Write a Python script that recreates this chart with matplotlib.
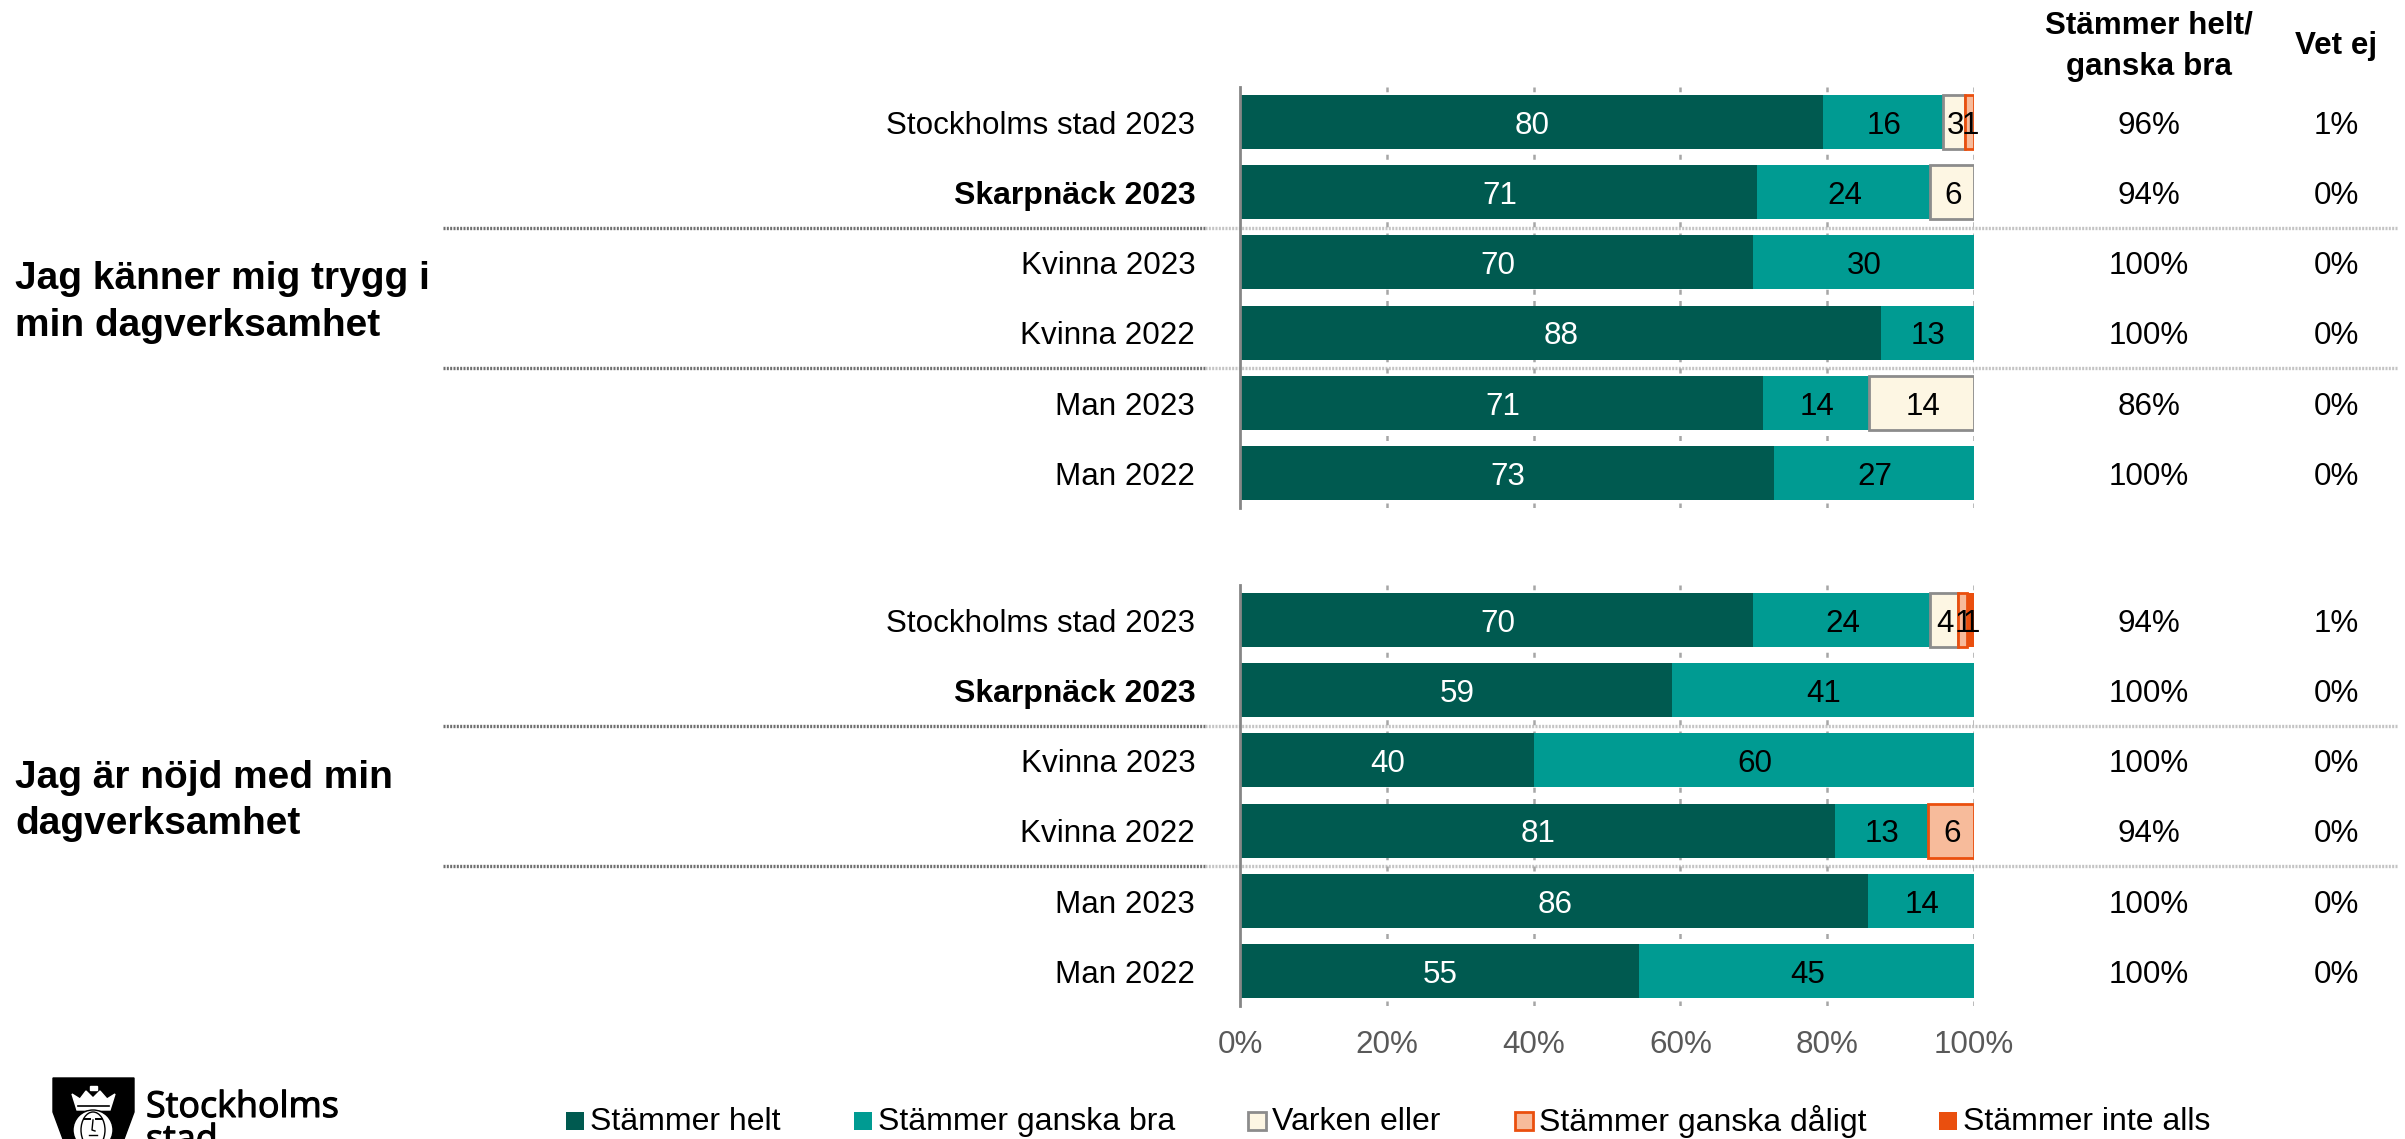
import matplotlib
matplotlib.use('Agg')
import matplotlib.pyplot as plt
import matplotlib.patheffects as pe
from matplotlib.patches import Polygon, Ellipse, Rectangle

plt.rcParams['font.family'] = ['Liberation Sans', 'DejaVu Sans']

W, H = 2405, 1139

rows = ['Stockholms stad 2023', 'Skarpnäck 2023', 'Kvinna 2023', 'Kvinna 2022', 'Man 2023', 'Man 2022']
legend_names = ['Stämmer helt', 'Stämmer ganska bra', 'Varken eller', 'Stämmer ganska dåligt', 'Stämmer inte alls']
face = ['#005a50', '#009b92', '#fdf6e3', '#f7bb9b', '#ea4f0e']
edge = ['#005a50', '#009b92', '#8c8c8c', '#ea4f0e', '#ea4f0e']

# bar lengths, the printed labels are kept apart
helt_1 = [79.4, 70.5, 69.9, 87.3, 71.3, 72.7]
bra_1 = [16.4, 23.5, 30.1, 12.7, 14.4, 27.3]
varken_1 = [3.0, 6.0, 0, 0, 14.3, 0]
daligt_1 = [1.2, 0, 0, 0, 0, 0]
inte_1 = [0, 0, 0, 0, 0, 0]
labels_1 = [['80', '16', '3', '1'], ['71', '24', '6'], ['70', '30'], ['88', '13'], ['71', '14', '14'], ['73', '27']]
helt_pct_1 = ['96%', '94%', '100%', '100%', '86%', '100%']
vet_ej_1 = ['1%', '0%', '0%', '0%', '0%', '0%']

helt_2 = [69.9, 58.8, 40.0, 81.0, 85.6, 54.3]
bra_2 = [24.1, 41.2, 60.0, 12.7, 14.4, 45.7]
varken_2 = [3.8, 0, 0, 0, 0, 0]
daligt_2 = [1.2, 0, 0, 6.3, 0, 0]
inte_2 = [1.0, 0, 0, 0, 0, 0]
labels_2 = [['70', '24', '4', '1', '1'], ['59', '41'], ['40', '60'], ['81', '13', '6'], ['86', '14'], ['55', '45']]
helt_pct_2 = ['94%', '100%', '100%', '94%', '100%', '100%']
vet_ej_2 = ['1%', '0%', '0%', '0%', '0%', '0%']

ticks = [0, 20, 40, 60, 80, 100]

FS = 22.6
TXT_DY = 0.055  # text sits a little lower than the bar middle


def px_axes(fig, left, top, right, bottom):
    return fig.add_axes([left / W, 1 - bottom / H, (right - left) / W, (bottom - top) / H])


def draw_panel(fig, top, bottom, series, labels, pct, vet, show_ticks):
    ax = px_axes(fig, 1240, top, 1974, bottom)
    ax.set_xlim(0, 100)
    ax.set_ylim(5.5, -0.5)
    ax.set_facecolor('none')
    for x in ticks[1:]:
        ax.axvline(x, color='#a6a6a6', lw=1.8, ls=(0, (2, 2.5)), zorder=0)
    for i in range(6):
        left = 0
        seen = 0
        for s, vals in enumerate(series):
            v = vals[i]
            if v == 0:
                continue
            inset = s in (2, 3)
            ax.barh(i, v, left=left, height=0.77, color=face[s], edgecolor=edge[s],
                    lw=2 if inset else 0, zorder=2)
            col = 'white' if s == 0 else 'black'
            ax.text(left + v / 2 + 0.15, i + TXT_DY, labels[i][seen], ha='center', va='center', fontsize=FS,
                    color=col, zorder=3, clip_on=False)
            left += v
            seen += 1
        bold = i == 1
        ax.text(-6.1, i + TXT_DY, rows[i], ha='right', va='center', fontsize=23 if bold else FS,
                fontweight='bold' if bold else 'normal', color='black')
        ax.text(123.8, i + TXT_DY, pct[i], ha='center', va='center', fontsize=FS, color='black', clip_on=False)
        ax.text(149.4, i + TXT_DY, vet[i], ha='center', va='center', fontsize=FS, color='black', clip_on=False)
    for s in ['top', 'right', 'bottom']:
        ax.spines[s].set_visible(False)
    ax.spines['left'].set_color('#868686')
    ax.spines['left'].set_linewidth(2)
    ax.set_yticks([])
    ax.set_xticks(ticks)
    ax.set_xticklabels([str(t) + '%' for t in ticks], fontsize=FS, color='#595959')
    ax.tick_params(axis='x', length=0, pad=17.5, labelbottom=show_ticks)
    return ax


fig = plt.figure(figsize=(W / 100, H / 100), dpi=100, facecolor='white')

series_1 = [helt_1, bra_1, varken_1, daligt_1, inte_1]
series_2 = [helt_2, bra_2, varken_2, daligt_2, inte_2]
draw_panel(fig, 87, 508, series_1, labels_1, helt_pct_1, vet_ej_1, False)
draw_panel(fig, 585, 1006, series_2, labels_2, helt_pct_2, vet_ej_2, True)

# everything else is placed in pixels
bg = fig.add_axes([0, 0, 1, 1], zorder=-1)
bg.set_xlim(0, W)
bg.set_ylim(H, 0)
bg.axis('off')

for y in [228, 368, 726, 866]:
    bg.plot([443, 1205], [y, y], color='#6e6e6e', lw=2.4, ls=(0, (0.6, 0.4)))
    bg.plot([1205, 2398], [y, y], color='#c4c4c4', lw=2.4, ls=(0, (0.6, 0.4)))

bg.text(15, 279, 'Jag känner mig trygg i', fontsize=28, fontweight='bold', va='center')
bg.text(15, 326, 'min dagverksamhet', fontsize=28, fontweight='bold', va='center')
bg.text(15, 778, 'Jag är nöjd med min', fontsize=28, fontweight='bold', va='center')
bg.text(15, 824, 'dagverksamhet', fontsize=28, fontweight='bold', va='center')

bg.text(2149, 25, 'Stämmer helt/', fontsize=22.6, fontweight='bold', ha='center', va='center')
bg.text(2149, 67, 'ganska bra', fontsize=22.6, fontweight='bold', ha='center', va='center')
bg.text(2336, 46, 'Vet ej', fontsize=22.6, fontweight='bold', ha='center', va='center')

# legend
legend_x = [566, 854, 1248, 1515, 1939]
for s, name in enumerate(legend_names):
    lw = 2 if s in (2, 3) else 0
    bg.add_patch(Rectangle((legend_x[s], 1112), 18, 18, facecolor=face[s], edgecolor=edge[s], lw=lw))
    bg.text(legend_x[s] + 24, 1122, name, fontsize=23, va='center')

# logo, cut by the lower edge as in the original
bg.add_patch(Polygon([(53, 1078), (134, 1078), (134, 1112), (124, 1139), (63, 1139), (53, 1112)], color='black'))
bg.add_patch(Polygon([(72, 1094), (80, 1099), (86, 1091), (93, 1098), (100, 1091), (107, 1099), (115, 1094),
                      (110, 1110), (77, 1110)], color='white'))
bg.add_patch(Polygon([(90, 1090), (90, 1086), (97, 1086), (97, 1090)], color='white'))
bg.plot([78, 109], [1106, 1106], color='black', lw=1.2)
bg.add_patch(Ellipse((93, 1130), 40, 40, facecolor='white', edgecolor='black', lw=1))
bg.add_patch(Ellipse((93, 1130), 24, 36, facecolor='white', edgecolor='black', lw=1))
bg.plot([84, 90], [1119, 1119], color='black', lw=1.4)
bg.plot([96, 102], [1119, 1119], color='black', lw=1.4)
bg.plot([93, 92, 95], [1120, 1130, 1131], color='black', lw=1)
bg.plot([89, 97], [1135, 1135], color='black', lw=1)
heavier = [pe.withStroke(linewidth=0.8, foreground='black')]
bg.text(146, 1117, 'Stockholms', fontsize=25.8, family='Open Sans', va='baseline', path_effects=heavier)
bg.text(146, 1150, 'stad', fontsize=25.8, family='Open Sans', va='baseline', path_effects=heavier)

fig.savefig('out.png', dpi=100)
